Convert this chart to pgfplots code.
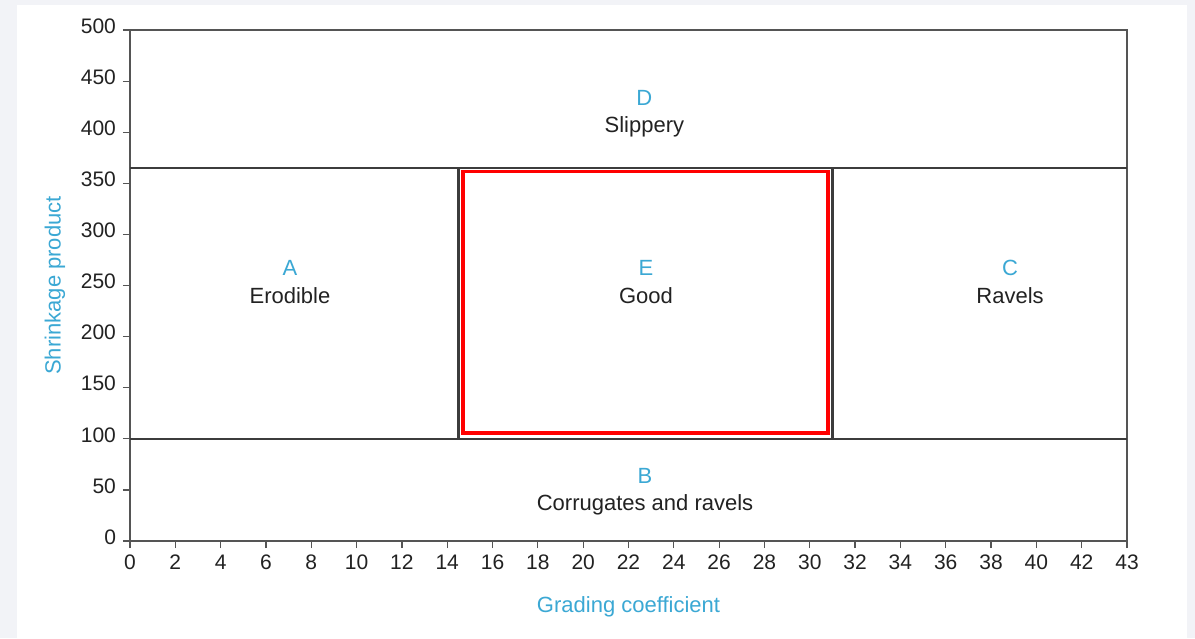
\documentclass[border=0pt]{standalone}
\usepackage{pgfplots}
\pgfplotsset{compat=1.18}
\usetikzlibrary{backgrounds}
\usepackage{fontspec}
\setmainfont{Liberation Sans}
\definecolor{bggray}{RGB}{242,243,247}
\definecolor{lblue}{RGB}{59,168,212}
\definecolor{axgray}{RGB}{85,85,85}
\definecolor{linegray}{RGB}{60,60,60}
\definecolor{txt}{RGB}{34,34,34}
\begin{document}
\begin{tikzpicture}
\begin{axis}[
  at={(0pt,0pt)}, anchor=south west,
  scale only axis, width=498.5pt, height=255.5pt,
  xmin=0, xmax=44, ymin=0, ymax=500,
  xtick={0,2,4,6,8,10,12,14,16,18,20,22,24,26,28,30,32,34,36,38,40,42,44},
  xticklabels={0,2,4,6,8,10,12,14,16,18,20,22,24,26,28,30,32,34,36,38,40,42,43},
  ytick={0,50,100,150,200,250,300,350,400,450,500},
  tick align=outside, xtick pos=bottom, ytick pos=left,
  major tick length=3.5pt,
  axis line style={axgray, line width=0.75pt},
  tick style={axgray, line width=0.6pt},
  /pgf/number format/assume math mode=true,
  ticklabel style={font=\fontsize{10.5}{12}\selectfont, text=txt},
  yticklabel style={yshift=2pt},
  xlabel={Grading coefficient}, ylabel={Shrinkage product},
  label style={font=\fontsize{11}{13}\selectfont, text=lblue},
  xlabel style={at={(axis description cs:0.5,-0.1292)}, anchor=center},
  ylabel style={at={(axis description cs:-0.0752,0.5)}, anchor=center},
  clip=false,
]
\addplot[linegray, line width=1pt] coordinates {(0,365) (44,365)};
\addplot[linegray, line width=1pt] coordinates {(0,100) (44,100)};
\addplot[linegray, line width=1.1pt] coordinates {(14.5,100) (14.5,365)};
\addplot[linegray, line width=1.1pt] coordinates {(31.0,100) (31.0,365)};
\addplot[red, line width=1.7pt, line join=miter] coordinates {(14.7,105.7) (30.8,105.7) (30.8,361.5) (14.7,361.5) (14.7,105.7) (30.8,105.7)};
\begin{scope}[every node/.style={font=\fontsize{11}{13}\selectfont}]
\node[text=lblue] at (axis cs:22.7,433.5) {D};
\node[text=txt] at (axis cs:22.7,405) {Slippery};
\node[text=lblue] at (axis cs:7.06,267) {A};
\node[text=txt] at (axis cs:7.06,239.7) {Erodible};
\node[text=lblue] at (axis cs:22.77,267) {E};
\node[text=txt] at (axis cs:22.77,239.7) {Good};
\node[text=lblue] at (axis cs:38.84,267) {C};
\node[text=txt] at (axis cs:38.84,239.7) {Ravels};
\node[text=lblue] at (axis cs:22.73,63.6) {B};
\node[text=txt] at (axis cs:22.73,35.2) {Corrugates and ravels};
\end{scope}
\end{axis}
\begin{pgfonlayer}{background}
\fill[bggray] ([shift={(-65pt,-48.5pt)}]current axis.south west) rectangle ([shift={(532.5pt,270.5pt)}]current axis.south west);
\fill[white] ([shift={(-56.5pt,-48.5pt)}]current axis.south west) rectangle ([shift={(528.5pt,268pt)}]current axis.south west);
\end{pgfonlayer}
\end{tikzpicture}
\end{document}
